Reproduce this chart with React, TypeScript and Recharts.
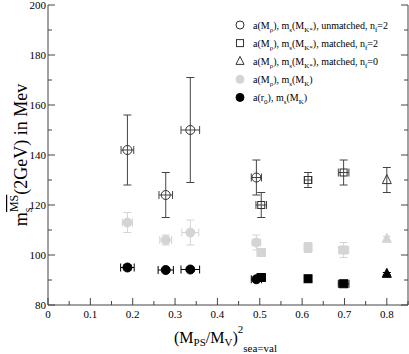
import React from 'react';
import { ScatterChart, Scatter, XAxis, YAxis, ErrorBar } from 'recharts';

const W = 409;
const H = 354;
const FONT = "'Liberation Serif', 'DejaVu Serif', serif";
const FRAME = '#444';
const GRAY = '#d4d4d4';

// x positions (M_PS/M_V)^2
const xCircle = [0.1875, 0.278, 0.336, 0.492];
const xSquare = [0.5035, 0.614, 0.698];
const xTriangle = [0.8];

// open symbols: a(M_rho), m_s(M_K*)
const yOpenCircle = [142, 124, 150, 131];
const eyOpenCircle = [14, 9, 21, 7];
const exOpenCircle = [0.015, 0.016, 0.022, 0.012];
const yOpenSquare = [120, 130, 133];
const eyOpenSquare = [5, 3, 5];
const exOpenSquare = [0.0125, 0.009, 0.0125];
const yOpenTriangle = [130];
const eyOpenTriangle = [5];
const exOpenTriangle = [0];

// gray symbols: a(M_rho), m_s(M_K)
const yGrayCircle = [113, 106, 109, 105];
const eyGrayCircle = [4, 2, 5, 3];
const exGrayCircle = [0.012, 0.014, 0.02, 0.01];
const yGraySquare = [101, 103, 102];
const eyGraySquare = [1.5, 2, 3];
const exGraySquare = [0.01, 0.008, 0.012];
const yGrayTriangle = [106.5];
const eyGrayTriangle = [1];
const exGrayTriangle = [0];

// black symbols: a(r0), m_s(M_K)
const yBlackCircle = [95, 94, 94.2, 90.3];
const eyBlackCircle = [1, 0.6, 0.6, 0.6];
const exBlackCircle = [0.016, 0.018, 0.022, 0.012];
const yBlackSquare = [91, 90.5, 88.5];
const eyBlackSquare = [0.8, 1, 0.8];
const exBlackSquare = [0.01, 0.005, 0.0125];
const yBlackTriangle = [92.5];
const eyBlackTriangle = [0.5];
const exBlackTriangle = [0];

const yTicks = [80, 90, 100, 110, 120, 130, 140, 150, 160, 170, 180, 190, 200];
const xTicks = [0, 0.05, 0.1, 0.15, 0.2, 0.25, 0.3, 0.35, 0.4, 0.45, 0.5, 0.55, 0.6, 0.65, 0.7, 0.75, 0.8, 0.85];

const build = (xs: number[], ys: number[], exs: number[], eys: number[]) =>
  xs.map((x, i) => ({ x, y: ys[i], ex: exs[i], ey: eys[i] }));

const isMajorY = (v: number) => v % 20 === 0;
const isMajorX = (v: number) => Math.abs(v * 10 - Math.round(v * 10)) < 1e-6;

const LeftTick = (p: any) => {
  const { x, y, payload } = p;
  const major = isMajorY(payload.value);
  return (
    <g>
      <line x1={x} x2={x + (major ? 7 : 4)} y1={y} y2={y} stroke={FRAME} strokeWidth={1} />
      {major && (
        <text x={x - 2} y={y + 4} textAnchor="end" fontSize={11} fontFamily={FONT} fill="#000">
          {payload.value}
        </text>
      )}
    </g>
  );
};
const RightTick = (p: any) => {
  const { x, y, payload } = p;
  const major = isMajorY(payload.value);
  return <line x1={x} x2={x - (major ? 7 : 4)} y1={y} y2={y} stroke={FRAME} strokeWidth={1} />;
};
const BottomTick = (p: any) => {
  const { x, y, payload } = p;
  const major = isMajorX(payload.value);
  return (
    <g>
      <line x1={x} x2={x} y1={y} y2={y - (major ? 7 : 4)} stroke={FRAME} strokeWidth={1} />
      {major && (
        <text x={x} y={y + 13} textAnchor="middle" fontSize={11} fontFamily={FONT} fill="#000">
          {String(Math.round(payload.value * 10) / 10)}
        </text>
      )}
    </g>
  );
};
const TopTick = (p: any) => {
  const { x, y, payload } = p;
  const major = isMajorX(payload.value);
  return <line x1={x} x2={x} y1={y} y2={y + (major ? 7 : 4)} stroke={FRAME} strokeWidth={1} />;
};

const circleShape = (fill: string, stroke: string, r: number) => (p: any) => (
  <circle cx={p.cx} cy={p.cy} r={r} fill={fill} stroke={stroke} strokeWidth={1} />
);
const squareShape = (fill: string, stroke: string, s: number) => (p: any) => (
  <rect x={p.cx - s / 2} y={p.cy - s / 2} width={s} height={s} fill={fill} stroke={stroke} strokeWidth={1} />
);
const triangleShape = (fill: string, stroke: string, s: number) => (p: any) => (
  <polygon
    points={`${p.cx},${p.cy - s * 0.6} ${p.cx - s / 2},${p.cy + s * 0.4} ${p.cx + s / 2},${p.cy + s * 0.4}`}
    fill={fill}
    stroke={stroke}
    strokeWidth={1}
  />
);

type Seg = [string, 'n' | 'sub' | 'sup'];
const renderSegs = (segs: Seg[], fs: number, sfs: number, subDy: number, supDy: number) => {
  let cur = 0;
  return segs.map(([t, k], i) => {
    const target = k === 'sub' ? subDy : k === 'sup' ? -supDy : 0;
    const dy = target - cur;
    cur = target;
    return (
      <tspan key={i} dy={dy} fontSize={k === 'n' ? fs : sfs}>
        {t}
      </tspan>
    );
  });
};

const legendRows: { segs: Seg[]; kind: string }[] = [
  { segs: [['a(M', 'n'], ['ρ', 'sub'], ['), m', 'n'], ['s', 'sub'], ['(M', 'n'], ['K*', 'sub'], ['), unmatched, n', 'n'], ['f', 'sub'], ['=2', 'n']], kind: 'oc' },
  { segs: [['a(M', 'n'], ['ρ', 'sub'], ['), m', 'n'], ['s', 'sub'], ['(M', 'n'], ['K*', 'sub'], ['), matched, n', 'n'], ['f', 'sub'], ['=2', 'n']], kind: 'os' },
  { segs: [['a(M', 'n'], ['ρ', 'sub'], ['), m', 'n'], ['s', 'sub'], ['(M', 'n'], ['K*', 'sub'], ['), matched, n', 'n'], ['f', 'sub'], ['=0', 'n']], kind: 'ot' },
  { segs: [['a(M', 'n'], ['ρ', 'sub'], ['), m', 'n'], ['s', 'sub'], ['(M', 'n'], ['K', 'sub'], [')', 'n']], kind: 'gc' },
  { segs: [['a(r', 'n'], ['0', 'sub'], ['), m', 'n'], ['s', 'sub'], ['(M', 'n'], ['K', 'sub'], [')', 'n']], kind: 'bc' },
];

const legendSymbol = (kind: string, cx: number, cy: number) => {
  const p = { cx, cy };
  switch (kind) {
    case 'oc':
      return circleShape('none', '#333', 4)(p);
    case 'os':
      return squareShape('none', '#333', 7)(p);
    case 'ot':
      return triangleShape('none', '#333', 8)(p);
    case 'gc':
      return circleShape(GRAY, GRAY, 4)(p);
    default:
      return circleShape('#000', '#000', 4)(p);
  }
};

export default function App() {
  const openC = build(xCircle, yOpenCircle, exOpenCircle, eyOpenCircle);
  const openS = build(xSquare, yOpenSquare, exOpenSquare, eyOpenSquare);
  const openT = build(xTriangle, yOpenTriangle, exOpenTriangle, eyOpenTriangle);
  const grayC = build(xCircle, yGrayCircle, exGrayCircle, eyGrayCircle);
  const grayS = build(xSquare, yGraySquare, exGraySquare, eyGraySquare);
  const grayT = build(xTriangle, yGrayTriangle, exGrayTriangle, eyGrayTriangle);
  const blackC = build(xCircle, yBlackCircle, exBlackCircle, eyBlackCircle);
  const blackS = build(xSquare, yBlackSquare, exBlackSquare, eyBlackSquare);
  const blackT = build(xTriangle, yBlackTriangle, exBlackTriangle, eyBlackTriangle);

  const series = [
    { d: grayC, shape: circleShape(GRAY, GRAY, 4.5), c: GRAY },
    { d: grayS, shape: squareShape(GRAY, GRAY, 8), c: GRAY },
    { d: grayT, shape: triangleShape(GRAY, GRAY, 9), c: GRAY },
    { d: blackC, shape: circleShape('#000', '#000', 4.5), c: '#000' },
    { d: blackS, shape: squareShape('#000', '#000', 8), c: '#000' },
    { d: blackT, shape: triangleShape('#000', '#000', 9), c: '#000' },
    { d: openC, shape: circleShape('none', '#333', 4.5), c: '#444' },
    { d: openS, shape: squareShape('none', '#333', 7), c: '#444' },
    { d: openT, shape: triangleShape('none', '#333', 9), c: '#444' },
  ];

  return (
    <div style={{ position: 'absolute', left: 0, top: 0, width: W, height: H, background: '#fff' }}>
      <ScatterChart width={W} height={H} margin={{ top: 5, right: 0, bottom: 0, left: 0 }}>
        <XAxis
          xAxisId="b"
          type="number"
          dataKey="x"
          domain={[0, 0.85]}
          ticks={xTicks}
          interval={0}
          height={49}
          tickSize={0}
          tickMargin={0}
          tickLine={false}
          tick={BottomTick}
          stroke={FRAME}
          allowDataOverflow
        />
        <XAxis
          xAxisId="t"
          orientation="top"
          type="number"
          dataKey="x"
          domain={[0, 0.85]}
          ticks={xTicks}
          interval={0}
          height={0}
          tickSize={0}
          tickMargin={0}
          tickLine={false}
          tick={TopTick}
          stroke={FRAME}
          allowDataOverflow
        />
        <YAxis
          yAxisId="l"
          type="number"
          dataKey="y"
          domain={[80, 200]}
          ticks={yTicks}
          interval={0}
          width={48}
          tickSize={0}
          tickMargin={0}
          tickLine={false}
          tick={LeftTick}
          stroke={FRAME}
          allowDataOverflow
        />
        <YAxis
          yAxisId="r"
          orientation="right"
          type="number"
          dataKey="y"
          domain={[80, 200]}
          ticks={yTicks}
          interval={0}
          width={1}
          tickSize={0}
          tickMargin={0}
          tickLine={false}
          tick={RightTick}
          stroke={FRAME}
          allowDataOverflow
        />
        {series.map((s, i) => (
          <Scatter
            key={i}
            xAxisId="b"
            yAxisId="l"
            data={s.d}
            shape={s.shape}
            isAnimationActive={false}
          >
            <ErrorBar dataKey="ey" direction="y" width={4} stroke={s.c} strokeWidth={1} isAnimationActive={false} />
            <ErrorBar dataKey="ex" direction="x" width={4} stroke={s.c} strokeWidth={1} isAnimationActive={false} />
          </Scatter>
        ))}
      </ScatterChart>
      <svg
        width={W}
        height={H}
        style={{ position: 'absolute', left: 0, top: 0, pointerEvents: 'none' }}
      >
        {legendRows.map((r, i) => {
          const cy = 25 + i * 18.1;
          return (
            <g key={i}>
              {legendSymbol(r.kind, 240, cy)}
              <text x={253} y={cy + 3.5} fontFamily={FONT} fill="#000">
                {renderSegs(r.segs, 10, 7, 3, 4)}
              </text>
            </g>
          );
        })}
        <text
          transform="translate(27,155) rotate(-90)"
          textAnchor="middle"
          fontFamily={FONT}
          fontSize={18}
          fill="#000"
        >
          <tspan>m</tspan>
          <tspan fontSize={12} dy={5}>s</tspan>
          <tspan fontSize={12} dx={-4.5} dy={-14} style={{ textDecoration: 'overline' }}>MS</tspan>
          <tspan dy={9}>(2GeV) in Mev</tspan>
        </text>
        <text x={174} y={343} fontFamily={FONT} fill="#000">
          <tspan fontSize={16}>(M</tspan>
          <tspan fontSize={11} dy={3}>PS</tspan>
          <tspan fontSize={16} dy={-3}>/M</tspan>
          <tspan fontSize={11} dy={3}>V</tspan>
          <tspan fontSize={16} dy={-3}>)</tspan>
          <tspan fontSize={11} dy={-10}>2</tspan>
          <tspan fontSize={11} dy={19}>sea=val</tspan>
        </text>
      </svg>
    </div>
  );
}
